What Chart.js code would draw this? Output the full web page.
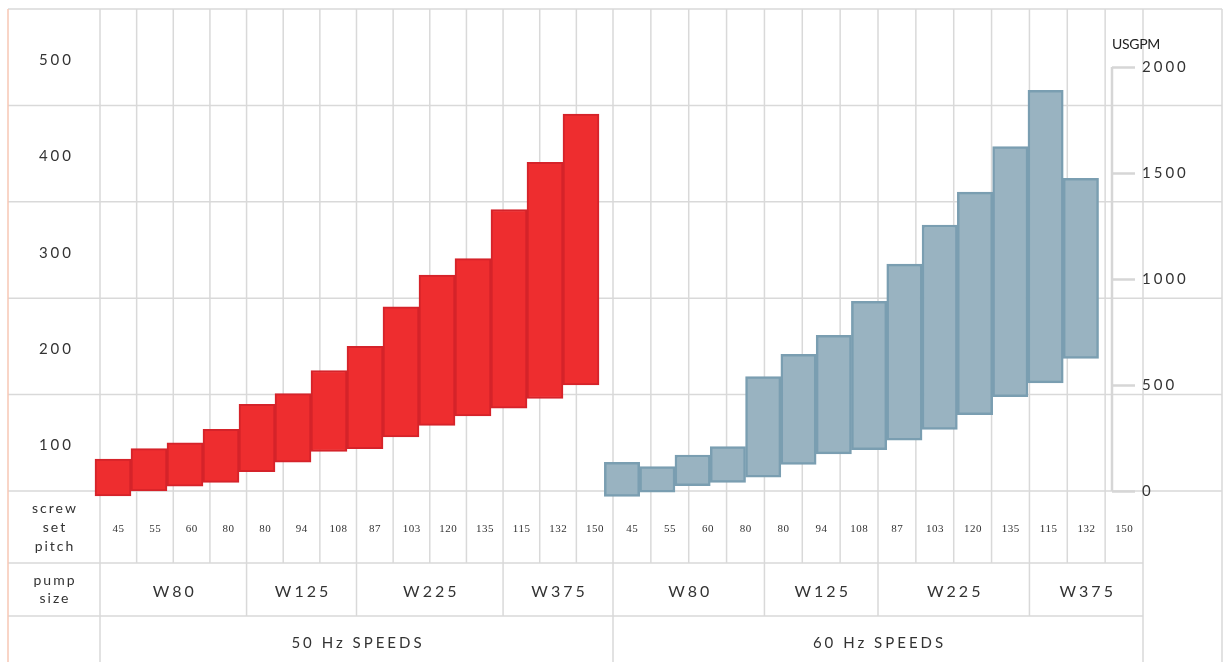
<!DOCTYPE html>
<html>
<head>
<meta charset="utf-8">
<title>Screw pump capacity</title>
<script src="https://cdn.jsdelivr.net/npm/chart.js@4.4.1/dist/chart.umd.min.js"></script>
<style>
  html, body { margin: 0; padding: 0; background: #fff; }
  #wrap { position: relative; width: 1225px; height: 662px; }
</style>
</head>
<body>
<div id="wrap"><canvas id="pumpChart"></canvas></div>
<script>
// chart data
const screwPitch = ['45', '55', '60', '80', '80', '94', '108', '87', '103', '120', '135', '115', '132', '150'];
const pumpSize = ['W80', 'W80', 'W80', 'W80', 'W125', 'W125', 'W125', 'W225', 'W225', 'W225', 'W225', 'W375', 'W375', 'W375'];
const speedLabels = ['50 Hz SPEEDS', '60 Hz SPEEDS'];

// 50 Hz flow range (left axis)
const flow50Min = [-5, 0, 5, 9, 20, 30, 41, 44, 56, 68, 78, 86, 96, 110];
const flow50Max = [33, 44, 50, 64, 90, 101, 125, 150, 191, 224, 241, 292, 341, 391];

// 60 Hz flow range (right axis, USGPM)
const flow60Min = [-25, -5, 25, 40, 65, 125, 175, 195, 240, 290, 360, 445, 510, 625];
const flow60Max = [135, 115, 170, 210, 540, 645, 735, 895, 1070, 1255, 1410, 1625, 1890, 1475];

const m3hTicks = [100, 200, 300, 400, 500];
const usgpmTicks = [0, 500, 1000, 1500, 2000];

const TEXT = '#333';
const GRID = '#d9d9d9';

// consecutive runs of the same pump size -> table groups
function runs(list) {
    const out = [];
    list.forEach((v, i) => {
        const last = out[out.length - 1];
        if (last && last.label === v) last.end = i + 1;
        else out.push({ label: v, start: i, end: i + 1 });
    });
    return out;
}

function toBars(lo, hi) {
    return lo.map((v, i) => ({ x: i, y: [v, hi[i]] }));
}

function fixedTicks(values) {
    return function (scale) {
        scale.ticks = values.map(v => ({ value: v }));
    };
}

// draws the background table: grid, row labels, pitch / pump size / speed rows
const tablePlugin = {
    id: 'pumpTable',
    beforeDraw(chart) {
        const { ctx, chartArea: area, scales } = chart;
        const halves = [scales.g50, scales.g60];
        const n = screwPitch.length;
        const edgeL = 8, edgeR = chart.width - 3;
        const rowA = area.bottom + 72, rowB = area.bottom + 125, rowEnd = chart.height;
        const labelMid = (edgeL + area.left) / 2;
        const tableEnd = scales.g60.getPixelForValue(n);
        const groups = runs(pumpSize);

        const line = (x1, y1, x2, y2) => {
            ctx.beginPath();
            ctx.moveTo(x1, y1);
            ctx.lineTo(x2, y2);
            ctx.stroke();
        };
        const text = (str, x, y, size, spacing, family, align) => {
            ctx.font = size + 'px ' + (family || 'Lato');
            ctx.letterSpacing = spacing + 'px';
            ctx.textAlign = align || 'center';
            ctx.fillText(str, align === 'left' ? x : x + spacing / 2, y);
        };

        ctx.save();
        ctx.strokeStyle = GRID;
        ctx.lineWidth = 1.5;

        // rows
        [0, ...m3hTicks].forEach(v => {
            const y = scales.y.getPixelForValue(v);
            line(edgeL, y, edgeR, y);
        });
        line(edgeL, rowA, tableEnd, rowA);
        line(edgeL, rowB, tableEnd, rowB);

        // columns
        line(area.left, area.top, area.left, rowEnd);
        line(edgeR, area.top, edgeR, rowEnd);
        halves.forEach(s => {
            for (let k = 1; k <= n; k++) {
                const x = s.getPixelForValue(k);
                line(x, area.top, x, rowA);
            }
            groups.forEach(r => {
                const x = s.getPixelForValue(r.end);
                line(x, rowA, x, rowB);
            });
            const x = s.getPixelForValue(n);
            line(x, rowB, x, rowEnd);
        });

        ctx.strokeStyle = '#f7c7b4';
        line(edgeL, area.top, edgeL, rowEnd);

        // right axis line
        ctx.strokeStyle = '#d6d6d6';
        ctx.lineWidth = 2.5;
        line(area.right, scales.y2.getPixelForValue(usgpmTicks[0]),
             area.right, scales.y2.getPixelForValue(usgpmTicks[usgpmTicks.length - 1]));

        // texts
        ctx.fillStyle = TEXT;
        ctx.textBaseline = 'middle';
        const midA = (area.bottom + rowA) / 2;
        const midB = (rowA + rowB) / 2;
        const midC = (rowB + rowEnd) / 2;
        ['screw', 'set', 'pitch'].forEach((w, i) => text(w, labelMid, midA + (i - 1) * 19, 14, 2));
        ['pump', 'size'].forEach((w, i) => text(w, labelMid, midB + (i - 0.5) * 18, 14, 2));

        halves.forEach((s, h) => {
            screwPitch.forEach((p, i) => text(p, s.getPixelForValue(i + 0.5), midA + 2, 11, 0.5, 'Liberation Serif'));
            groups.forEach(r => text(r.label, s.getPixelForValue((r.start + r.end) / 2), midB + 2, 16, 3));
            text(speedLabels[h], s.getPixelForValue(n / 2), midC + 4, 15, 3);
        });

        ctx.fillStyle = '#222';
        text('USGPM', area.right, scales.y2.getPixelForValue(usgpmTicks[usgpmTicks.length - 1]) - 23, 14, -0.3, 'Lato', 'left');
        ctx.restore();

        // spacing for the axis tick labels
        ctx.letterSpacing = '3px';
    }
};

document.addEventListener('DOMContentLoaded', function () {
    new Chart(document.getElementById('pumpChart'), {
        type: 'bar',
        data: {
            labels: screwPitch,
            datasets: [
                {
                    label: '50 Hz',
                    data: toBars(flow50Min, flow50Max),
                    xAxisID: 'xr',
                    yAxisID: 'y',
                    backgroundColor: '#ee2d2f',
                    borderColor: '#d5232a',
                    borderWidth: 2,
                    borderSkipped: false,
                    barPercentage: 1,
                    categoryPercentage: 1,
                    grouped: false,
                    clip: false
                },
                {
                    label: '60 Hz',
                    data: toBars(flow60Min, flow60Max),
                    xAxisID: 'xb',
                    yAxisID: 'y2',
                    backgroundColor: '#99b3c1',
                    borderColor: '#7a9eb1',
                    borderWidth: 2.5,
                    borderSkipped: false,
                    barPercentage: 1,
                    categoryPercentage: 1,
                    grouped: false,
                    clip: false
                }
            ]
        },
        options: {
            responsive: true,
            maintainAspectRatio: false,
            animation: false,
            events: [],
            layout: { padding: { top: 9, bottom: 171, left: 0, right: 0 } },
            plugins: { legend: { display: false }, tooltip: { enabled: false } },
            scales: {
                // bar positions
                xr: { type: 'linear', display: false, offset: false, min: -0.361, max: 27.75, afterBuildTicks: fixedTicks(screwPitch.map((_, i) => i)) },
                xb: { type: 'linear', display: false, offset: false, min: -14.788, max: 13.881, afterBuildTicks: fixedTicks(screwPitch.map((_, i) => i)) },
                // table columns for each speed
                g50: { type: 'linear', axis: 'x', display: false, offset: false, min: 0, max: 27.618 },
                g60: { type: 'linear', axis: 'x', display: false, offset: false, min: -13.551, max: 13.181 },
                y: {
                    min: 0,
                    max: 500,
                    afterBuildTicks: fixedTicks(m3hTicks),
                    afterFit: s => { s.width = 100; s.paddingTop = 0; s.paddingBottom = 0; },
                    grid: { display: false, drawTicks: false },
                    border: { display: false },
                    ticks: {
                        autoSkip: false,
                        labelOffset: 51,
                        padding: 26,
                        color: TEXT,
                        font: { family: 'Lato', size: 15 }
                    }
                },
                y2: {
                    position: 'right',
                    min: 0,
                    max: 2274,
                    afterBuildTicks: fixedTicks(usgpmTicks),
                    afterFit: s => { s.width = 113; s.paddingTop = 0; s.paddingBottom = 0; },
                    grid: { drawOnChartArea: false, drawTicks: true, tickLength: 23, tickColor: '#d6d6d6', tickWidth: 2.5 },
                    border: { display: false },
                    ticks: {
                        autoSkip: false,
                        padding: 7,
                        color: TEXT,
                        font: { family: 'Lato', size: 15 },
                        callback: v => String(v)
                    }
                }
            }
        },
        plugins: [tablePlugin]
    });
});
</script>
</body>
</html>
